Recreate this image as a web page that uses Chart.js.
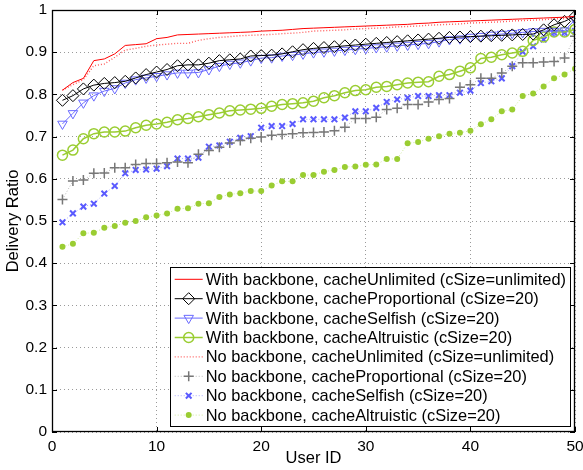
<!DOCTYPE html>
<html>
<head>
<meta charset="utf-8">
<script src="https://cdn.jsdelivr.net/npm/chart.js@4"></script>
<style>
  html, body { margin: 0; padding: 0; background: #fff; }
</style>
</head>
<body>
<canvas id="ratio" width="583" height="470"></canvas>
<script>
// user ids on the x axis
const userIds = [1, 2, 3, 4, 5, 6, 7, 8, 9, 10, 11, 12, 13, 14, 15, 16, 17, 18, 19, 20,
  21, 22, 23, 24, 25, 26, 27, 28, 29, 30, 31, 32, 33, 34, 35, 36, 37, 38, 39, 40,
  41, 42, 43, 44, 45, 46, 47, 48, 49, 50];

const withUnlimited = [0.810, 0.828, 0.838, 0.880, 0.884, 0.896, 0.916, 0.918, 0.920, 0.932, 0.935, 0.941,
  0.942, 0.943, 0.944, 0.945, 0.946, 0.947, 0.948, 0.950, 0.951, 0.952, 0.954, 0.956,
  0.957, 0.958, 0.959, 0.960, 0.961, 0.962, 0.963, 0.964, 0.965, 0.966, 0.968, 0.969, 0.971,
  0.972, 0.973, 0.974, 0.975, 0.976, 0.977, 0.978, 0.979, 0.980, 0.981, 0.982, 0.983, 0.985];
const withProportional = [0.786, 0.797, 0.813, 0.822, 0.826, 0.828, 0.831, 0.839, 0.847, 0.853, 0.859, 0.868,
  0.870, 0.870, 0.874, 0.880, 0.882, 0.884, 0.891, 0.892, 0.893, 0.896, 0.901, 0.906,
  0.909, 0.911, 0.913, 0.915, 0.917, 0.919, 0.921, 0.923, 0.925, 0.927, 0.929, 0.931, 0.933,
  0.935, 0.936, 0.937, 0.938, 0.939, 0.940, 0.941, 0.942, 0.943, 0.953, 0.965, 0.973, 0.985];
const withSelfish = [0.730, 0.755, 0.780, 0.797, 0.808, 0.814, 0.827, 0.835, 0.839, 0.843, 0.847, 0.851,
  0.851, 0.852, 0.859, 0.867, 0.872, 0.875, 0.880, 0.886, 0.887, 0.891, 0.893, 0.896,
  0.899, 0.901, 0.903, 0.905, 0.907, 0.909, 0.911, 0.913, 0.915, 0.917, 0.919, 0.921, 0.925,
  0.930, 0.932, 0.936, 0.938, 0.941, 0.943, 0.945, 0.947, 0.949, 0.950, 0.950, 0.951, 0.977];
const withAltruistic = [0.656, 0.668, 0.695, 0.707, 0.711, 0.711, 0.713, 0.721, 0.727, 0.730, 0.734, 0.740,
  0.743, 0.747, 0.752, 0.756, 0.761, 0.763, 0.765, 0.767, 0.772, 0.776, 0.778, 0.780,
  0.784, 0.792, 0.797, 0.804, 0.809, 0.811, 0.817, 0.819, 0.823, 0.827, 0.829, 0.830, 0.843,
  0.847, 0.855, 0.863, 0.885, 0.888, 0.894, 0.898, 0.902, 0.928, 0.936, 0.948, 0.948, 0.954];
const noUnlimited = [0.810, 0.823, 0.835, 0.868, 0.872, 0.888, 0.905, 0.909, 0.914, 0.917, 0.919, 0.921,
  0.921, 0.928, 0.932, 0.935, 0.937, 0.939, 0.940, 0.941, 0.942, 0.944, 0.945, 0.947,
  0.950, 0.951, 0.952, 0.953, 0.955, 0.956, 0.957, 0.958, 0.960, 0.961, 0.962, 0.964, 0.965,
  0.966, 0.967, 0.969, 0.970, 0.971, 0.972, 0.974, 0.975, 0.976, 0.977, 0.979, 0.980, 0.982];
const noProportional = [0.551, 0.595, 0.597, 0.613, 0.614, 0.626, 0.626, 0.634, 0.636, 0.636, 0.638, 0.640,
  0.638, 0.658, 0.667, 0.675, 0.685, 0.691, 0.696, 0.699, 0.703, 0.705, 0.707, 0.709,
  0.710, 0.711, 0.714, 0.722, 0.743, 0.743, 0.746, 0.764, 0.767, 0.776, 0.776, 0.782, 0.788,
  0.790, 0.817, 0.823, 0.838, 0.838, 0.851, 0.867, 0.875, 0.875, 0.877, 0.878, 0.886, 0.938];
const noSelfish = [0.497, 0.518, 0.534, 0.541, 0.565, 0.583, 0.613, 0.621, 0.622, 0.624, 0.630, 0.648,
  0.648, 0.650, 0.676, 0.679, 0.688, 0.697, 0.701, 0.721, 0.725, 0.725, 0.730, 0.741,
  0.741, 0.741, 0.741, 0.745, 0.760, 0.760, 0.768, 0.782, 0.788, 0.792, 0.796, 0.796, 0.798,
  0.798, 0.804, 0.809, 0.827, 0.831, 0.838, 0.867, 0.901, 0.914, 0.930, 0.946, 0.946, 0.950];
const noAltruistic = [0.439, 0.446, 0.471, 0.472, 0.484, 0.488, 0.496, 0.500, 0.509, 0.513, 0.518, 0.529,
  0.530, 0.541, 0.542, 0.557, 0.563, 0.566, 0.571, 0.571, 0.584, 0.594, 0.594, 0.609,
  0.609, 0.617, 0.621, 0.628, 0.629, 0.633, 0.634, 0.647, 0.647, 0.684, 0.687, 0.695, 0.701,
  0.707, 0.709, 0.714, 0.729, 0.741, 0.760, 0.764, 0.796, 0.802, 0.819, 0.838, 0.847, 0.861];

const xTicks = [0, 10, 20, 30, 40, 50];
const yTicks = [0, 0.1, 0.2, 0.3, 0.4, 0.5, 0.6, 0.7, 0.8, 0.9, 1];

const FONT = "'Liberation Sans', Arial, Helvetica, sans-serif";

function pts(values) {
  return values.map((v, i) => ({x: userIds[i], y: v}));
}

function series(label, values, style) {
  return Object.assign({
    label: label,
    data: pts(values),
    fill: false,
    tension: 0,
    borderWidth: 1,
    pointRadius: 0,
    pointBorderWidth: 1,
    pointBackgroundColor: 'rgba(0,0,0,0)',
    pointRotation: 0
  }, style);
}

const datasets = [
  series('With backbone, cacheUnlimited (cSize=unlimited)', withUnlimited,
    {borderColor: '#ff0000'}),
  series('With backbone, cacheProportional (cSize=20)', withProportional,
    {borderColor: '#000000', pointStyle: 'rectRot', pointRadius: 6, pointBorderColor: '#000000'}),
  series('With backbone, cacheSelfish (cSize=20)', withSelfish,
    {borderColor: '#6a6aff', pointStyle: 'triangle', pointRotation: 180, pointRadius: 5.5, pointBorderColor: '#6a6aff'}),
  series('With backbone, cacheAltruistic (cSize=20)', withAltruistic,
    {borderColor: '#9acd32', borderWidth: 1.5, pointStyle: 'circle', pointRadius: 5, pointBorderWidth: 1.5, pointBorderColor: '#9acd32'}),
  series('No backbone, cacheUnlimited (cSize=unlimited)', noUnlimited,
    {borderColor: '#ff5a5a', borderWidth: 1.4, borderDash: [1, 2]}),
  series('No backbone, cacheProportional (cSize=20)', noProportional,
    {borderColor: '#b8b8b8', borderDash: [1, 2], pointStyle: 'cross', pointRadius: 5, pointBorderWidth: 1.5, pointBorderColor: '#777777'}),
  series('No backbone, cacheSelfish (cSize=20)', noSelfish,
    {borderColor: '#a8a8ff', borderDash: [1, 2], pointStyle: 'crossRot', pointRadius: 4, pointBorderWidth: 2, pointBorderColor: '#5a5aff'}),
  series('No backbone, cacheAltruistic (cSize=20)', noAltruistic,
    {borderColor: '#cde89a', borderDash: [1, 2], pointStyle: 'circle', pointRadius: 3, pointBorderWidth: 0, pointBackgroundColor: '#9acd32', pointBorderColor: '#9acd32'})
];

// matlab style box, inward ticks and the legend inside the axes
const matlabBox = {
  id: 'matlabBox',
  afterDraw(chart) {
    const {ctx, chartArea: a, scales} = chart;
    ctx.save();
    ctx.strokeStyle = '#000';
    ctx.lineWidth = 1.3;
    ctx.setLineDash([]);
    ctx.strokeRect(a.left + 0.5, a.top + 0.5, a.right - a.left - 1, a.bottom - a.top - 1);
    ctx.lineWidth = 1;
    ctx.beginPath();
    xTicks.forEach(t => {
      const px = Math.round(scales.x.getPixelForValue(t)) + 0.5;
      ctx.moveTo(px, a.bottom); ctx.lineTo(px, a.bottom - 5);
      ctx.moveTo(px, a.top); ctx.lineTo(px, a.top + 5);
    });
    yTicks.forEach(t => {
      const py = Math.round(scales.y.getPixelForValue(t)) + 0.5;
      ctx.moveTo(a.left, py); ctx.lineTo(a.left + 5, py);
      ctx.moveTo(a.right, py); ctx.lineTo(a.right - 5, py);
    });
    ctx.stroke();

    // legend
    ctx.font = '16.4px ' + FONT;
    const dsets = chart.data.datasets;
    let maxW = 0;
    dsets.forEach(d => { maxW = Math.max(maxW, ctx.measureText(d.label).width); });
    const rowH = 19.4;
    const w = 36 + maxW + 4;
    const h = rowH * dsets.length + 4;
    const right = a.right - 5;
    const bottom = a.bottom - 6;
    const left = right - w;
    const top = bottom - h;
    ctx.fillStyle = '#fff';
    ctx.fillRect(left, top, w, h);
    ctx.strokeStyle = '#000';
    ctx.strokeRect(Math.round(left) + 0.5, Math.round(top) + 0.5, Math.round(w), Math.round(h));
    dsets.forEach((d, i) => {
      const ry = top + 12.5 + i * rowH;
      const lx0 = left + 5, lx1 = left + 33;
      ctx.save();
      ctx.strokeStyle = d.borderColor;
      ctx.lineWidth = d.borderWidth;
      ctx.setLineDash(d.borderDash || []);
      ctx.beginPath();
      ctx.moveTo(lx0, ry); ctx.lineTo(lx1, ry);
      ctx.stroke();
      ctx.setLineDash([]);
      if (d.pointRadius > 0) {
        ctx.fillStyle = d.pointBackgroundColor;
        ctx.strokeStyle = d.pointBorderColor;
        ctx.lineWidth = d.pointBorderWidth;
        Chart.helpers.drawPoint(ctx, {
          pointStyle: d.pointStyle,
          rotation: d.pointRotation,
          radius: d.pointRadius,
          borderWidth: d.pointBorderWidth
        }, (lx0 + lx1) / 2, ry);
      }
      ctx.restore();
      ctx.fillStyle = '#000';
      ctx.textBaseline = 'middle';
      ctx.textAlign = 'left';
      ctx.fillText(d.label, left + 36, ry + 1);
    });
    ctx.restore();
  }
};

new Chart(document.getElementById('ratio'), {
  type: 'line',
  data: {datasets: datasets},
  options: {
    responsive: false,
    animation: false,
    layout: {padding: {top: 10, right: 8, left: 0, bottom: 0}},
    plugins: {
      legend: {display: false},
      tooltip: {enabled: false}
    },
    scales: {
      x: {
        type: 'linear',
        min: 0,
        max: 50,
        afterFit: s => {
          s.height = 38;
          s.paddingLeft = 0; s.paddingRight = 0;
        },
        afterBuildTicks: s => { s.ticks = xTicks.map(v => ({value: v})); },
        ticks: {color: '#000', font: {family: FONT, size: 15.5}, padding: 5, maxRotation: 0},
        grid: {color: '#9a9a9a', lineWidth: 1, drawTicks: false},
        border: {display: false, dash: [1, 3]},
        title: {display: true, text: 'User ID', color: '#000', font: {family: FONT, size: 16.5}, padding: {top: 0, bottom: 2}}
      },
      y: {
        min: 0,
        max: 1,
        afterFit: s => {
          s.width = 52;
          s.paddingTop = 0; s.paddingBottom = 0;
        },
        afterBuildTicks: s => { s.ticks = yTicks.map(v => ({value: v})); },
        ticks: {color: '#000', font: {family: FONT, size: 15.5}, padding: 5, callback: v => String(v)},
        grid: {color: '#9a9a9a', lineWidth: 1, drawTicks: false},
        border: {display: false, dash: [1, 3]},
        title: {display: true, text: 'Delivery Ratio', color: '#000', font: {family: FONT, size: 16.5}}
      }
    }
  },
  plugins: [matlabBox]
});
</script>
</body>
</html>
